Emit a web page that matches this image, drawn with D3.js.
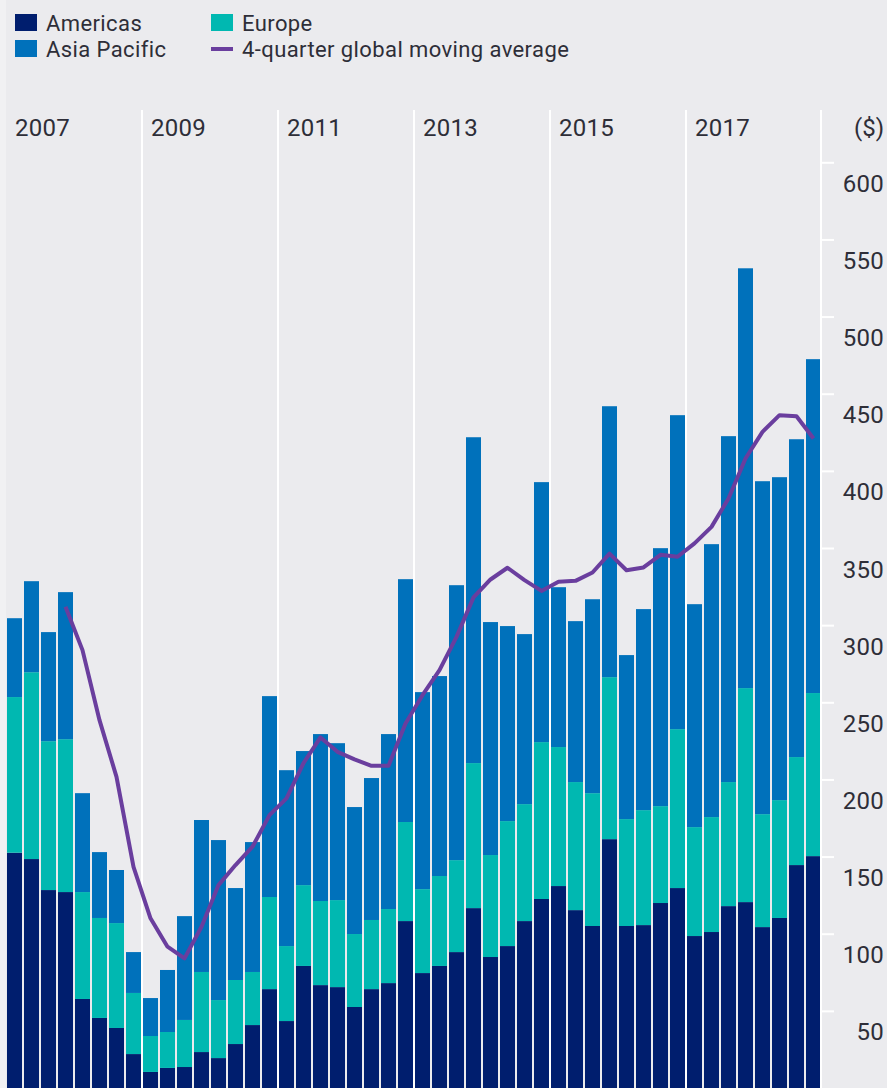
<!DOCTYPE html>
<html>
<head>
<meta charset="utf-8">
<script src="https://cdn.jsdelivr.net/npm/d3@7"></script>
<style>
  html, body { margin: 0; padding: 0; background: #f1f1f3; }
  svg { display: block; }
  text { font-family: Roboto, "Noto Sans", sans-serif; fill: #2e2e38; }
</style>
</head>
<body>
<div id="chart"></div>
<script>
// quarters 2007 Q1 .. 2018 Q4
var years = [2007, 2008, 2009, 2010, 2011, 2012, 2013, 2014, 2015, 2016, 2017, 2018]
var yearLabels = [2007, 2009, 2011, 2013, 2015, 2017]
var quarters = []
years.forEach(function (yr) { [1, 2, 3, 4].forEach(function (q) { quarters.push(yr + ' Q' + q) }) })

var americas = [152.5, 148.4, 128.3, 127.0, 57.7, 45.4, 38.9, 22.0, 10.4, 13.0, 13.6, 23.3,
  19.4, 28.5, 40.8, 64.1, 43.4, 79.1, 66.7, 65.4, 52.5, 64.1, 68.0, 108.2,
  74.5, 79.1, 88.1, 116.6, 84.9, 92.0, 108.2, 122.5, 130.9, 115.3, 105.0, 161.3,
  105.0, 105.6, 119.9, 129.6, 98.5, 101.1, 117.9, 120.5, 104.3, 110.2, 144.5, 150.3]
var europe = [100.9, 121.1, 96.5, 99.1, 69.3, 64.8, 68.0, 39.6, 23.3, 23.3, 30.5, 51.9,
  37.6, 41.5, 34.4, 59.7, 48.6, 52.4, 54.5, 56.4, 47.3, 44.8, 48.0, 64.2,
  54.4, 58.3, 59.6, 94.0, 66.1, 81.0, 75.8, 101.7, 90.1, 83.0, 86.1, 105.0,
  69.3, 74.5, 62.8, 103.0, 70.6, 74.5, 80.4, 138.7, 73.2, 76.4, 70.0, 105.7]
var asiaPacific = [51.1, 59.0, 70.7, 95.3, 64.1, 42.7, 34.4, 26.5, 24.6, 40.2, 67.3, 98.5,
  103.7, 59.6, 84.2, 130.2, 114.0, 86.9, 108.2, 101.7, 82.3, 92.0, 113.4, 157.4,
  127.7, 129.6, 178.2, 211.2, 151.0, 126.4, 110.2, 168.5, 103.6, 104.3, 125.7, 175.6,
  106.3, 130.3, 167.2, 203.5, 144.5, 176.9, 224.2, 272.1, 215.8, 209.3, 206.0, 216.4]
// 4-quarter global moving average, first value at 2007 Q4
var movingAvg = [null, null, null, 311.9, 283.8, 238.4, 201.7, 143.4, 110.0, 91.6, 84.0, 104.5,
  131.5, 144.5, 156.4, 176.9, 187.7, 210.6, 227.2, 217.9, 213.0, 208.8, 208.8, 236.3,
  254.6, 270.8, 292.4, 318.0, 329.6, 337.2, 329.2, 322.2, 328.1, 328.7, 334.1, 346.4,
  335.6, 337.4, 345.6, 344.3, 353.0, 363.7, 382.1, 408.0, 425.3, 436.1, 435.4, 421.0]
var tickValues = [50, 100, 150, 200, 250, 300, 350, 400, 450, 500, 550, 600]

var seriesNames = ['Americas', 'Europe', 'Asia Pacific']
var colors = { 'Americas': '#001e6e', 'Europe': '#00b8b1', 'Asia Pacific': '#0071bb' }
var lineColor = '#6a3e9e'

var width = 887, height = 1088

var svg = d3.select('#chart').append('svg')
  .attr('width', width)
  .attr('height', height)

svg.append('rect')
  .attr('x', 6).attr('y', 0)
  .attr('width', width - 6).attr('height', height)
  .attr('fill', '#ebebee')

var x = d3.scaleBand()
  .domain(quarters)
  .range([6, 822])
  .paddingInner(2 / 17)
  .paddingOuter(1 / 17)

var y = d3.scaleLinear()
  .domain([0, 600])
  .range([1088, 162.3])

// year grid lines
var gridYears = yearLabels.slice(1)
svg.selectAll('line.grid')
  .data(gridYears)
  .enter().append('line')
    .attr('class', 'grid')
    .attr('x1', function (d) { return x(d + ' Q1') - 1 })
    .attr('x2', function (d) { return x(d + ' Q1') - 1 })
    .attr('y1', 110).attr('y2', height)
    .attr('stroke', '#ffffff')
    .attr('stroke-width', 2)

svg.selectAll('text.year')
  .data(yearLabels)
  .enter().append('text')
    .attr('class', 'year')
    .attr('x', function (d) { return d === 2007 ? 15 : x(d + ' Q1') + 8 })
    .attr('y', 136)
    .attr('font-size', '24px')
    .attr('letter-spacing', '0.3px')
    .text(function (d) { return d })

// stacked bars
var table = quarters.map(function (q, i) {
  return { quarter: q, 'Americas': americas[i], 'Europe': europe[i], 'Asia Pacific': asiaPacific[i] }
})
var stacked = d3.stack().keys(seriesNames)(table)

svg.append('g').selectAll('g')
  .data(stacked)
  .enter().append('g')
    .attr('fill', function (d) { return colors[d.key] })
  .selectAll('rect')
  .data(function (d) { return d })
  .enter().append('rect')
    .attr('x', function (d) { return x(d.data.quarter) })
    .attr('width', x.bandwidth())
    .attr('y', function (d) { return y(d[1]) })
    .attr('height', function (d) { return y(d[0]) - y(d[1]) })

// moving average line
var line = d3.line()
  .defined(function (d) { return d != null })
  .x(function (d, i) { return x(quarters[i]) + x.bandwidth() / 2 })
  .y(function (d) { return y(d) })

svg.append('path')
  .datum(movingAvg)
  .attr('d', line)
  .attr('fill', 'none')
  .attr('stroke', lineColor)
  .attr('stroke-width', 4)
  .attr('stroke-linejoin', 'round')

// right axis
var axis = d3.axisRight(y).tickValues(tickValues).tickSize(13).tickPadding(0)
var gAxis = svg.append('g')
  .attr('transform', 'translate(821,0)')
  .call(axis)
gAxis.select('.domain').remove()
gAxis.selectAll('.tick line').attr('stroke', '#ffffff').attr('stroke-width', 2)
gAxis.selectAll('.tick text')
  .attr('x', 63)
  .attr('dy', 29)
  .attr('text-anchor', 'end')
  .attr('font-size', '24px')
  .attr('font-family', 'Roboto, sans-serif')
  .attr('letter-spacing', '0.3px')
  .attr('fill', '#2e2e38')
gAxis.append('line')
  .attr('x1', 0).attr('x2', 0)
  .attr('y1', 110).attr('y2', height)
  .attr('stroke', '#ffffff')
  .attr('stroke-width', 2)

svg.append('text')
  .attr('x', 884).attr('y', 136)
  .attr('text-anchor', 'end')
  .attr('font-size', '24px')
  .text('($)')

// legend
var legendItems = [
  { name: 'Americas', x: 15, y: 14, type: 'box' },
  { name: 'Asia Pacific', x: 15, y: 40, type: 'box' },
  { name: 'Europe', x: 211, y: 14, type: 'box' },
  { name: '4-quarter global moving average', x: 211, y: 40, type: 'line' }
]
var legend = svg.append('g').selectAll('g')
  .data(legendItems)
  .enter().append('g')
    .attr('transform', function (d) { return 'translate(' + d.x + ',' + d.y + ')' })
legend.filter(function (d) { return d.type === 'box' })
  .append('rect')
    .attr('width', 22).attr('height', 17)
    .attr('fill', function (d) { return colors[d.name] })
legend.filter(function (d) { return d.type === 'line' })
  .append('line')
    .attr('x1', 0).attr('x2', 22)
    .attr('y1', 9).attr('y2', 9)
    .attr('stroke', lineColor)
    .attr('stroke-width', 4)
legend.append('text')
  .attr('x', 31)
  .attr('y', 17)
  .attr('font-size', '22px')
  .attr('letter-spacing', '0.4px')
  .text(function (d) { return d.name })
</script>
</body>
</html>
